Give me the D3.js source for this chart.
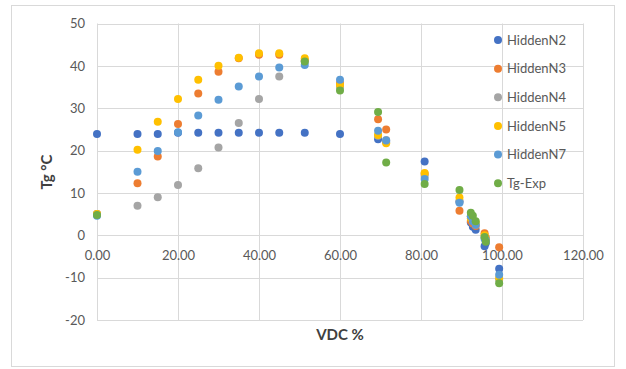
<!DOCTYPE html>
<html>
<head>
<meta charset="utf-8">
<script src="https://cdn.jsdelivr.net/npm/d3@7"></script>
<style>
  body { margin: 0; background: #fff; }
  svg { display: block; font-family: Lato, "Open Sans", sans-serif; }
</style>
</head>
<body>
<div id="chart"></div>
<script>
// x values (VDC %) shared by the network predictions
var xPred = [0, 10, 15, 20, 25, 30, 35, 40, 45, 51.3, 60, 69.4, 71.4, 80.9, 89.5, 92.3, 92.8, 93.5, 95.7, 96.0, 99.3];
// x values of the experimental points
var xExp = [0, 51.3, 60, 69.4, 71.4, 80.9, 89.5, 92.3, 92.8, 93.5, 95.7, 96.0, 99.3];

var hiddenN2 = [23.9, 23.9, 23.9, 24.2, 24.2, 24.2, 24.2, 24.2, 24.2, 24.2, 23.9, 22.7, 22.0, 17.4, 8.0, 3.0, 2.0, 1.3, -2.6, -1.8, -7.9];
var hiddenN3 = [5.0, 12.3, 18.6, 26.3, 33.5, 38.6, 41.8, 42.6, 42.6, 41.3, 35.9, 27.4, 25.0, 14.5, 5.8, 3.4, 2.8, 2.2, 0.5, -0.6, -2.8];
var hiddenN4 = [5.0, 7.0, 9.0, 11.9, 15.8, 20.7, 26.5, 32.2, 37.5, 41.0, 35.0, 23.5, 22.5, 14.0, 8.0, 4.5, 3.5, 2.5, -0.5, -1.0, -10.5];
var hiddenN5 = [5.0, 20.2, 26.8, 32.2, 36.7, 40.0, 41.9, 43.0, 43.0, 41.8, 35.5, 23.7, 21.7, 14.7, 8.9, 4.0, 3.6, 3.0, 0.0, -1.0, -10.1];
var hiddenN7 = [4.6, 15.0, 19.9, 24.3, 28.3, 32.0, 35.1, 37.5, 39.6, 40.2, 36.7, 24.7, 22.4, 13.3, 7.7, 4.5, 3.3, 2.5, -0.8, -1.2, -9.3];
var tgExp = [4.8, 41.0, 34.2, 29.1, 17.2, 12.1, 10.7, 5.3, 4.6, 3.3, -0.4, -1.5, -11.3];

var seriesNames = ["HiddenN2", "HiddenN3", "HiddenN4", "HiddenN5", "HiddenN7", "Tg-Exp"];
var seriesColors = ["#4472C4", "#ED7D31", "#A5A5A5", "#FFC000", "#5B9BD5", "#70AD47"];

var xTicks = [0, 20, 40, 60, 80, 100, 120];
var yTicks = [-20, -10, 0, 10, 20, 30, 40, 50];

var width = 626,
    height = 369;

var series = [
  { name: seriesNames[0], xs: xPred, ys: hiddenN2 },
  { name: seriesNames[1], xs: xPred, ys: hiddenN3 },
  { name: seriesNames[2], xs: xPred, ys: hiddenN4 },
  { name: seriesNames[3], xs: xPred, ys: hiddenN5 },
  { name: seriesNames[4], xs: xPred, ys: hiddenN7 },
  { name: seriesNames[5], xs: xExp, ys: tgExp }
];

var x = d3.scaleLinear().domain([0, 120]).range([97, 583]);
var y = d3.scaleLinear().domain([-20, 50]).range([320, 23.5]);
var color = d3.scaleOrdinal().domain(seriesNames).range(seriesColors);

var svg = d3.select("#chart").append("svg")
    .attr("width", width)
    .attr("height", height);

// chart border
svg.append("rect")
    .attr("x", 11.5).attr("y", 5.5)
    .attr("width", 603).attr("height", 361)
    .attr("fill", "#fff")
    .attr("stroke", "#d9d9d9");

// gridlines
svg.append("g")
    .selectAll("line")
    .data(yTicks)
    .enter().append("line")
    .attr("x1", x(0)).attr("x2", x(120))
    .attr("y1", function (d) { return Math.round(y(d)) + 0.5; })
    .attr("y2", function (d) { return Math.round(y(d)) + 0.5; })
    .attr("stroke", "#d9d9d9");

svg.append("g")
    .selectAll("line")
    .data(xTicks)
    .enter().append("line")
    .attr("y1", y(50)).attr("y2", y(-20))
    .attr("x1", function (d) { return Math.round(x(d)) + 0.5; })
    .attr("x2", function (d) { return Math.round(x(d)) + 0.5; })
    .attr("stroke", "#d9d9d9");

// x axis sits at y = 0
var xAxis = d3.axisBottom(x)
    .tickValues(xTicks)
    .tickSize(0)
    .tickPadding(15)
    .tickFormat(function (d) { return d.toFixed(2); });

svg.append("g")
    .attr("transform", "translate(0," + y(0) + ")")
    .call(xAxis)
    .call(function (g) { g.select(".domain").remove(); })
    .selectAll("text")
    .attr("fill", "#595959")
    .style("font-size", "13px")
    .style("font-family", "Lato, sans-serif");

// plain hyphen for negatives, like the original
var yAxis = d3.axisLeft(y)
    .tickValues(yTicks)
    .tickSize(0)
    .tickPadding(12)
    .tickFormat(function (d) { return String(d); });

svg.append("g")
    .attr("transform", "translate(" + x(0) + ",0)")
    .call(yAxis)
    .call(function (g) { g.select(".domain").remove(); })
    .selectAll("text")
    .attr("fill", "#595959")
    .style("font-size", "13px")
    .style("font-family", "Lato, sans-serif");

// axis titles
svg.append("text")
    .attr("transform", "translate(47,172) rotate(-90)")
    .attr("text-anchor", "middle")
    .attr("dy", "0.35em")
    .attr("fill", "#404040")
    .style("font-size", "15px")
    .style("font-weight", "bold")
    .text("Tg °C");

svg.append("text")
    .attr("x", 340).attr("y", 335)
    .attr("text-anchor", "middle")
    .attr("dy", "0.35em")
    .attr("fill", "#404040")
    .style("font-size", "15px")
    .style("font-weight", "bold")
    .text("VDC %");

// points
var groups = svg.selectAll(".series")
    .data(series)
    .enter().append("g")
    .attr("class", "series");

groups.selectAll("circle")
    .data(function (s) {
      return s.xs.map(function (v, i) { return { x: v, y: s.ys[i], name: s.name }; });
    })
    .enter().append("circle")
    .attr("cx", function (d) { return x(d.x); })
    .attr("cy", function (d) { return y(d.y); })
    .attr("r", 4)
    .attr("fill", function (d) { return color(d.name); });

// legend
var legend = svg.selectAll(".legend")
    .data(seriesNames)
    .enter().append("g")
    .attr("class", "legend")
    .attr("transform", function (d, i) { return "translate(498," + (40 + i * 28.65) + ")"; });

legend.append("circle")
    .attr("r", 4)
    .attr("fill", function (d) { return color(d); });

legend.append("text")
    .attr("x", 9)
    .attr("dy", "0.35em")
    .attr("fill", "#595959")
    .style("font-size", "13px")
    .text(function (d) { return d; });
</script>
</body>
</html>
